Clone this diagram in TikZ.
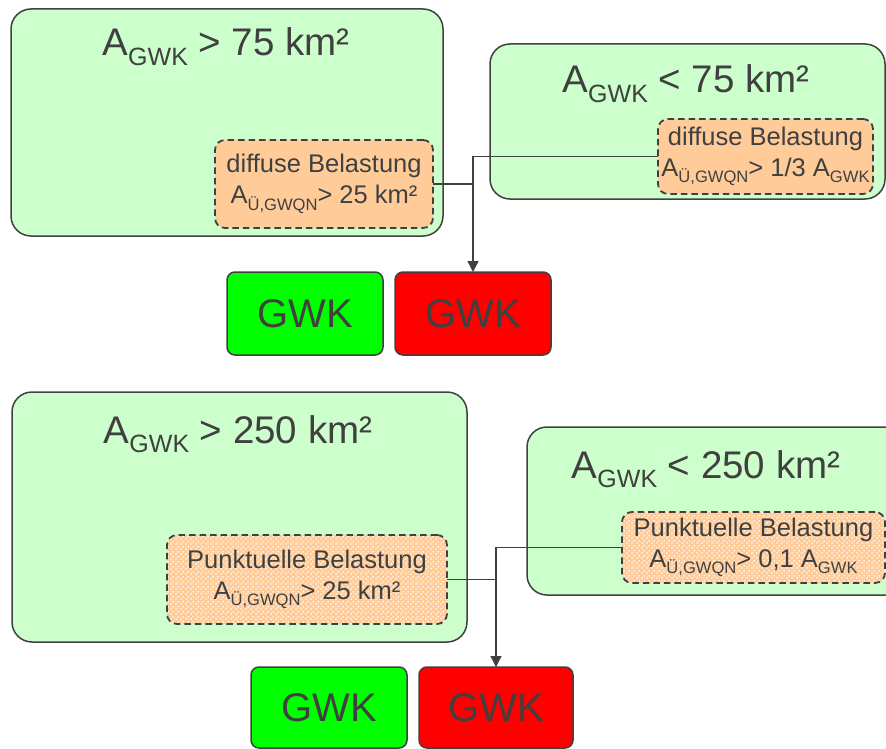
\documentclass[tikz,border=0pt]{standalone}
\usepackage{fontspec}
\setmainfont{Liberation Sans}
\usetikzlibrary{arrows.meta,patterns}
\definecolor{lgreen}{HTML}{CCFFCC}
\definecolor{peach}{HTML}{FFCC99}
\definecolor{dgray}{HTML}{404040}
\definecolor{gwkgreen}{HTML}{00FF00}
\definecolor{gwkred}{HTML}{FF0000}
\pgfdeclarepatternformonly{peachdots}{\pgfqpoint{0pt}{0pt}}{\pgfqpoint{4.6pt}{4.6pt}}{\pgfqpoint{4.6pt}{4.6pt}}{%
  \pgfpathcircle{\pgfqpoint{1.15pt}{1.15pt}}{1.05pt}%
  \pgfpathcircle{\pgfqpoint{3.45pt}{3.45pt}}{1.05pt}%
  \pgfusepath{fill}}
\newcommand{\sbx}[1]{\raisebox{-0.25em}{\scalebox{0.65}{#1}}}
\begin{document}
\begin{tikzpicture}[x=1pt,y=-1pt,
  bigbox/.style={rectangle, draw=dgray, line width=1.5pt, fill=lgreen, rounded corners=20pt,
    inner sep=0pt, outer sep=0pt, anchor=north west},
  obox/.style={rectangle, draw=dgray, line width=1.8pt, dash pattern=on 6.5pt off 4pt, fill=peach,
    rounded corners=10pt, inner sep=0pt, outer sep=0pt, anchor=north west, text=dgray,
    font=\fontsize{25.5}{31}\selectfont, align=center},
  pbox/.style={obox, preaction={fill=peach}, pattern=peachdots, pattern color=white!85!peach},
  gwkbox/.style={rectangle, draw=dgray, line width=1.5pt, rounded corners=8pt, inner sep=0pt,
    outer sep=0pt, anchor=north west, text=dgray, font=\fontsize{40}{46}\selectfont},
  title/.style={anchor=base, text=dgray, font=\fontsize{38.5}{44}\selectfont, inner sep=0pt},
  conn/.style={draw=dgray, line width=1.5pt},
  arr/.style={conn, -{Triangle[width=11pt,length=11pt]}}
]
\useasboundingbox (0,0) rectangle (886,749);
\clip (0,0) rectangle (886,749);
% top group
\node[bigbox, minimum width=432pt, minimum height=227pt] (b1) at (11,9) {};
\node[bigbox, minimum width=395pt, minimum height=155pt] (b2) at (490,44) {};
\node[title] (t1) at (226,56) {A\sbx{GWK} > 75 km²};
\node[title] (t2) at (686,93) {A\sbx{GWK} < 75 km²};
\node[obox, minimum width=218pt, minimum height=88pt] (o1) at (215,140)
  {diffuse Belastung\\A\sbx{Ü,GWQN}> 25 km²};
\node[obox, minimum width=215pt, minimum height=75pt] (o2) at (658,119)
  {diffuse Belastung\\A\sbx{Ü,GWQN}> 1/3 A\sbx{GWK}};
\node[gwkbox, fill=gwkgreen, minimum width=156pt, minimum height=83pt] (g1) at (227,272) {GWK};
\node[gwkbox, fill=gwkred, minimum width=156pt, minimum height=83pt] (r1) at (395,272) {GWK};
\draw[arr] (o2.west) -| (r1.north);
\draw[conn] (o1.east) -- (o1.east -| r1.north);
% bottom group
\node[bigbox, minimum width=455pt, minimum height=250pt] (b3) at (12,392) {};
\node[bigbox, minimum width=380pt, minimum height=168pt] (b4) at (527,427) {};
\node[title] (t3) at (238,443) {A\sbx{GWK} > 250 km²};
\node[title] (t4) at (706,478) {A\sbx{GWK} < 250 km²};
\node[pbox, minimum width=280pt, minimum height=89pt] (o3) at (167,535)
  {Punktuelle Belastung\\A\sbx{Ü,GWQN}> 25 km²};
\node[pbox, minimum width=263pt, minimum height=71pt] (o4) at (622,512)
  {Punktuelle Belastung\\A\sbx{Ü,GWQN}> 0,1 A\sbx{GWK}};
\node[gwkbox, fill=gwkgreen, minimum width=156pt, minimum height=81pt] (g2) at (251,667) {GWK};
\node[gwkbox, fill=gwkred, minimum width=154pt, minimum height=81pt] (r2) at (419,667) {GWK};
\draw[arr] (o4.west) -| (r2.north);
\draw[conn] (o3.east) -- (o3.east -| r2.north);
\end{tikzpicture}
\end{document}
